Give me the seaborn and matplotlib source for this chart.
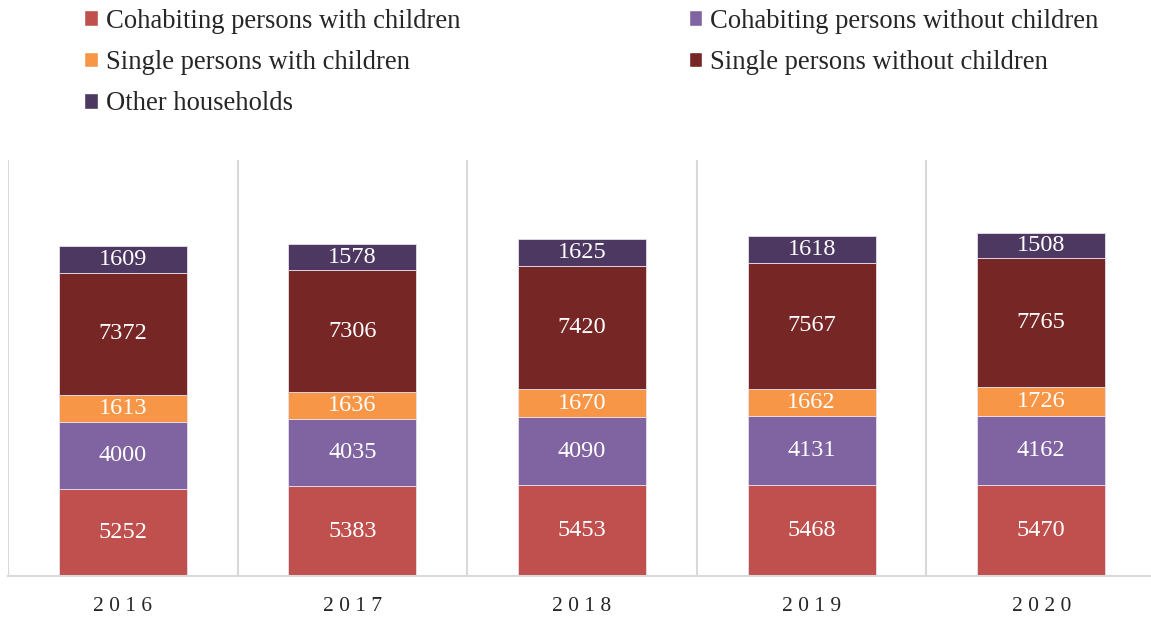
import matplotlib
matplotlib.use("Agg")
import matplotlib.pyplot as plt
from matplotlib.patches import Patch
import seaborn as sns
import numpy as np

years = ["2016", "2017", "2018", "2019", "2020"]
series_names = [
    "Cohabiting persons with children",
    "Cohabiting persons without children",
    "Single persons with children",
    "Single persons without children",
    "Other households",
]
cohabiting_with_children = [5252, 5383, 5453, 5468, 5470]
cohabiting_without_children = [4000, 4035, 4090, 4131, 4162]
single_with_children = [1613, 1636, 1670, 1662, 1726]
single_without_children = [7372, 7306, 7420, 7567, 7765]
other_households = [1609, 1578, 1625, 1618, 1508]

series_values = [
    cohabiting_with_children,
    cohabiting_without_children,
    single_with_children,
    single_without_children,
    other_households,
]
colors = ["#C0504D", "#8064A2", "#F79646", "#772626", "#4D3862"]

sns.set_theme(style="white")
plt.rcParams["font.family"] = ["Liberation Serif", "DejaVu Serif"]

fig = plt.figure(figsize=(11.51, 6.17), dpi=100)
ax = fig.add_axes([8 / 1151, 41 / 617, 1148 / 1151, 416 / 617])

bottom = np.zeros(len(years))
handles = []
for name, vals, col in zip(series_names, series_values, colors):
    sns.barplot(x=years, y=vals, bottom=bottom, color=col, width=0.557,
                edgecolor="#E8E0EC", linewidth=0.6, ax=ax, saturation=1)
    cont = ax.containers[-1]
    ax.bar_label(cont, labels=[str(v) for v in vals], label_type="center",
                 color="white", fontsize=17.5)
    bottom = bottom + np.array(vals)
    handles.append(Patch(facecolor=col, label=name))

ax.set_ylim(0, 25000)
ax.set_xlim(-0.5, len(years) - 0.5)
ax.set_yticks([])
ax.set_ylabel("")
ax.set_xlabel("")
for s in ["top", "right", "left"]:
    ax.spines[s].set_visible(False)
ax.spines["bottom"].set_color("#D9D9D9")
ax.spines["bottom"].set_linewidth(1.5)

# separators between categories
for b in np.arange(-0.5, len(years), 1.0):
    ax.axvline(b, color="#D9D9D9", linewidth=1.5, zorder=0)

ax.set_xticks(range(len(years)))
ax.set_xticklabels([" ".join(y) for y in years], fontsize=15.5)
ax.tick_params(axis="x", length=0, pad=15)

# legend laid out row by row across two columns
order = [0, 2, 4, 1, 3]
fig.legend([handles[i] for i in order], [series_names[i] for i in order],
           loc="upper left", bbox_to_anchor=(81 / 1151, 1 - 6 / 617), ncol=2,
           frameon=False, fontsize=19.2, handlelength=0.52, handleheight=0.52,
           handletextpad=0.3, columnspacing=8.57, labelspacing=0.61,
           borderaxespad=0.0, borderpad=0.1)

fig.savefig("out.png", dpi=100)
